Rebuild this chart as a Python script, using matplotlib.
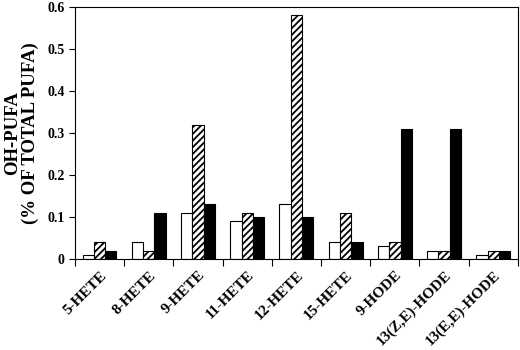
import numpy as np
import matplotlib.pyplot as plt
import matplotlib.transforms as mtransforms

plt.rcParams['font.family'] = ['Liberation Serif', 'DejaVu Serif']
plt.rcParams['font.weight'] = 'bold'
plt.rcParams['hatch.linewidth'] = 1.3

categories = ['5-HETE', '8-HETE', '9-HETE', '11-HETE', '12-HETE',
              '15-HETE', '9-HODE', '13(Z,E)-HODE', '13(E,E)-HODE']
open_vals = [0.01, 0.04, 0.11, 0.09, 0.13, 0.04, 0.03, 0.02, 0.01]
hatched_vals = [0.04, 0.02, 0.32, 0.11, 0.58, 0.11, 0.04, 0.02, 0.02]
solid_vals = [0.02, 0.11, 0.13, 0.10, 0.10, 0.04, 0.31, 0.31, 0.02]
yticks = [0, 0.1, 0.2, 0.3, 0.4, 0.5, 0.6]
ytick_labels = ['0', '0.1', '0.2', '0.3', '0.4', '0.5', '0.6']

fig = plt.figure(figsize=(5.2, 3.5), dpi=100)
ax = fig.add_axes([0.144, 0.26, 0.852, 0.72])

x = np.arange(len(categories))
w = 0.23
ax.bar(x - w, open_vals, w, color='white', edgecolor='black', linewidth=0.8)
ax.bar(x, hatched_vals, w, color='white', edgecolor='black', hatch='/////', linewidth=0.8)
ax.bar(x + w, solid_vals, w, color='black', edgecolor='black', linewidth=0.8)

ax.set_xlim(-0.5, len(categories) - 0.5)
ax.set_ylim(0, 0.6)
ax.set_yticks(yticks)
ax.set_yticklabels(ytick_labels, fontsize=10, fontweight='bold')

# ticks at group boundaries, labels at group centres
ax.set_xticks(np.arange(len(categories) + 1) - 0.5)
ax.set_xticklabels([])
ax.set_xticks(x, minor=True)
labels = ax.set_xticklabels(categories, minor=True, rotation=45, ha='right',
                            rotation_mode='anchor', fontsize=11, fontweight='bold')
shift = mtransforms.ScaledTranslation(-9 / 100, -4 / 100, fig.dpi_scale_trans)
for lab in labels:
    lab.set_transform(lab.get_transform() + shift)
ax.tick_params(axis='x', which='minor', length=0, pad=7)
ax.tick_params(axis='x', which='major', length=5, direction='out', width=0.8)
ax.tick_params(axis='y', length=4, direction='out', width=0.8)

for s in ax.spines.values():
    s.set_linewidth(0.8)

ax.set_ylabel('OH-PUFA\n(% OF TOTAL PUFA)', fontsize=13.5, fontweight='bold',
              labelpad=6, linespacing=1.05)

fig.savefig('out.png', dpi=100)
